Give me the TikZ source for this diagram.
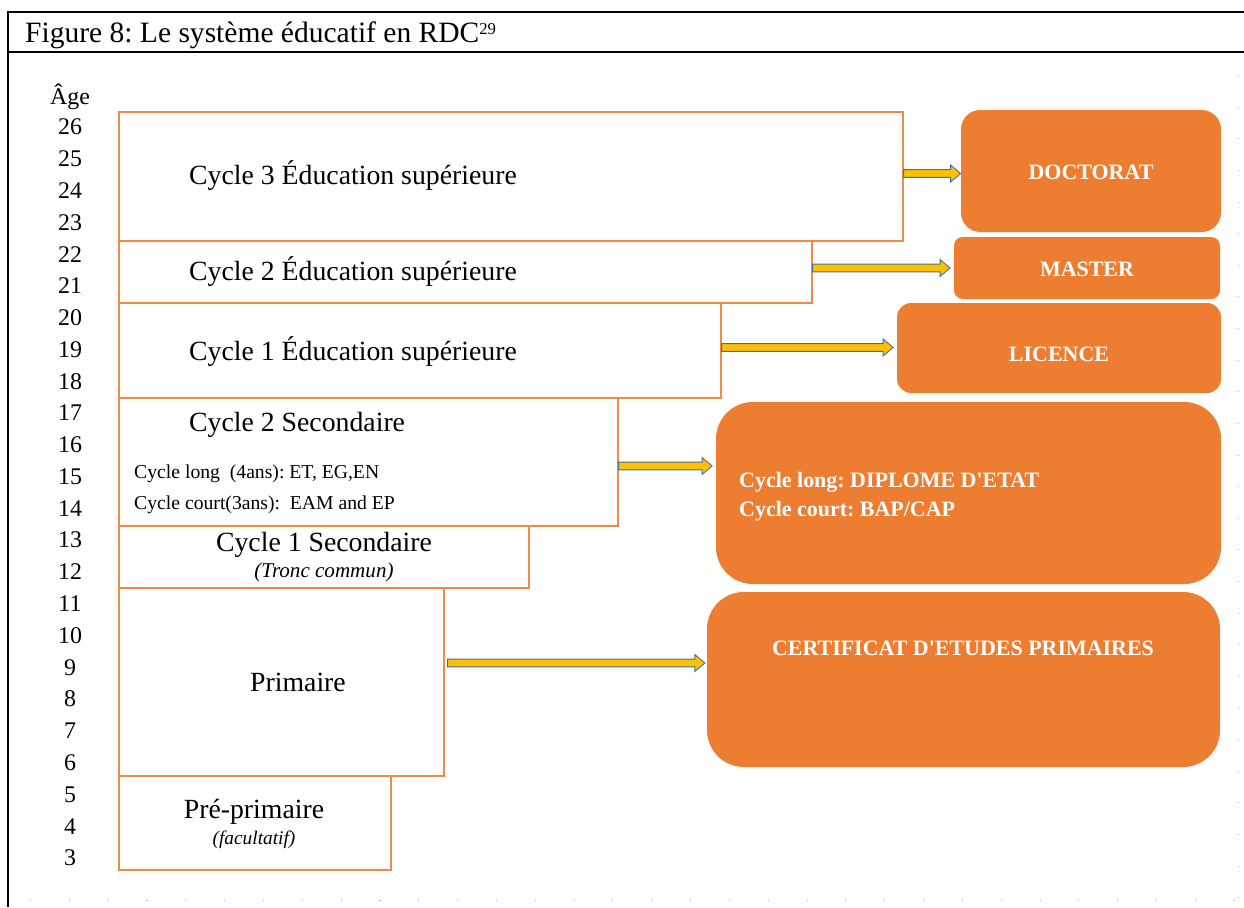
\documentclass[tikz,border=0pt]{standalone}
\usepackage{fontspec}
\setmainfont{Liberation Serif}
\usetikzlibrary{fit, calc}
\frenchspacing

\definecolor{lvlline}{HTML}{F08A4B}
\definecolor{diplo}{HTML}{ED7D31}
\definecolor{flowfill}{HTML}{FFC000}
\definecolor{flowline}{HTML}{41719C}

\begin{document}
\begin{tikzpicture}[x=0.02cm, y=-0.02cm,
    level/.style={draw=lvlline, line width=0.7pt, inner sep=0pt},
    diploma/.style={fill=diplo, inner sep=0pt},
    diplotext/.style={text=white, font=\fontsize{12.5pt}{15pt}\selectfont\bfseries},
    biglabel/.style={font=\fontsize{15.8pt}{19pt}\selectfont},
    smalllabel/.style={anchor=west, font=\fontsize{11.2pt}{13pt}\selectfont},
    notelabel/.style={font=\fontsize{12pt}{14pt}\selectfont\itshape},
    agenum/.style={font=\fontsize{13.6pt}{16pt}\selectfont},
    blockarrow/.style={fill=flowfill, draw=flowline, line width=0.5pt,
        to path={let \p1=(\tikztostart), \p2=(\tikztotarget) in
            (\x1,\y1+2.2pt) -- (\x2-5.7pt,\y1+2.2pt) -- (\x2-5.7pt,\y1+4.8pt) -- (\x2,\y1)
            -- (\x2-5.7pt,\y1-4.8pt) -- (\x2-5.7pt,\y1-2.2pt) -- (\x1,\y1-2.2pt) -- cycle}}]
    \useasboundingbox (0,0) rectangle (1244,907);

    % frame
    \draw[line width=1.4pt] (8,907) -- (8,12) -- (1244,12);
    \draw[line width=1.4pt] (8,52) -- (1244,52);
    \draw[gray!60, line width=0.5pt, dash pattern=on 0.6pt off 21.5pt] (30,900) -- (1238,900);
    \draw[gray!60, line width=0.5pt, dash pattern=on 0.6pt off 17.4pt] (1238,75) -- (1238,900);
    \node[anchor=base west, font=\fontsize{16.8pt}{19pt}\selectfont] (title) at (19,42)
        {Figure 8: Le système éducatif en RDC\raisebox{4.5pt}{\fontsize{9.5pt}{10pt}\selectfont 29}};

    % ages
    \node[agenum] (agehead) at (70,97) {Âge};
    \foreach \a [count=\i from 0] in {26,25,...,3}
        \node[agenum] (age\a) at (70,127+31.78*\i) {\a};

    % levels
    \node[level, fit={(119,112) (903,241)}] (c3) {};
    \node[level, fit={(119,241) (812,303)}] (c2sup) {};
    \node[level, fit={(119,303) (721,398)}] (c1sup) {};
    \node[level, fit={(119,398) (618,526)}] (c2sec) {};
    \node[level, fit={(119,526) (529,588)}] (c1sec) {};
    \node[level, fit={(119,588) (444,776)}] (prim) {};
    \node[level, fit={(119,776) (391,870)}] (pre) {};

    \node[biglabel, anchor=west] (c3txt) at (183,176) {Cycle 3 Éducation supérieure};
    \node[biglabel, anchor=west] (c2suptxt) at (183,272) {Cycle 2 Éducation supérieure};
    \node[biglabel, anchor=west] (c1suptxt) at (183,352) {Cycle 1 Éducation supérieure};
    \node[biglabel, anchor=west] (c2sectxt) at (183,425) {Cycle 2 Secondaire};
    \node[smalllabel] (longtxt) at (128,474) {Cycle long\ \ (4ans): ET, EG,EN};
    \node[smalllabel] (courttxt) at (128,505) {Cycle court(3ans):\ \ EAM and EP};
    \node[biglabel] (c1sectxt) at (324,545) {Cycle 1 Secondaire};
    \node[notelabel] (troncnote) at (324,572) {(Tronc commun)};
    \node[biglabel] (primtxt) at (298,682) {Primaire};
    \node[biglabel] (pretxt) at (254,812) {Pré-primaire};
    \node[notelabel, font=\fontsize{11pt}{13pt}\selectfont\itshape] (facnote) at (254,840) {(facultatif)};

    % diplomas
    \node[diploma, rounded corners=11pt, fit={(961,110) (1221,232)}] (doc) {};
    \node[diploma, rounded corners=5pt, fit={(954,237) (1220,299)}] (mas) {};
    \node[diploma, rounded corners=8pt, fit={(897,303) (1221,393)}] (lic) {};
    \node[diploma, rounded corners=21pt, fit={(716,402) (1221,584)}] (dip) {};
    \node[diploma, rounded corners=21pt, fit={(707,592) (1220,767)}] (cert) {};
    \node[diplotext] (doctxt) at ([shift={(0,1)}]doc.center) {DOCTORAT};
    \node[diplotext] (mastxt) at ([shift={(0,1)}]mas.center) {MASTER};
    \node[diplotext] (lictxt) at ([shift={(0,6)}]lic.center) {LICENCE};
    \node[diplotext, anchor=west, align=left, font=\fontsize{12.5pt}{16.4pt}\selectfont\bfseries]
        (diptxt) at (733,497) {Cycle long: DIPLOME D\textquotesingle ETAT\\Cycle court: BAP/CAP};
    \node[diplotext] (certtxt) at (963,648) {CERTIFICAT D\textquotesingle ETUDES PRIMAIRES};

    % arrows
    \coordinate (c3out) at ([shift={(0,-3)}]c3.east);
    \coordinate (c2supout) at ([shift={(0,-4)}]c2sup.east);
    \coordinate (c1supout) at ([shift={(0,-3)}]c1sup.east);
    \coordinate (c2secout) at ([shift={(0,4)}]c2sec.east);
    \coordinate (primout) at ([shift={(3,-19)}]prim.east);
    \draw[blockarrow] (c3out) to (c3out -| doc.west);
    \draw[blockarrow] (c2supout) to ([xshift=-2pt]c2supout -| mas.west);
    \draw[blockarrow] (c1supout) to ([xshift=-2pt]c1supout -| lic.west);
    \draw[blockarrow] (c2secout) to ([xshift=-2pt]c2secout -| dip.west);
    \draw[blockarrow] (primout) to ([xshift=-1pt]primout -| cert.west);
\end{tikzpicture}
\end{document}
